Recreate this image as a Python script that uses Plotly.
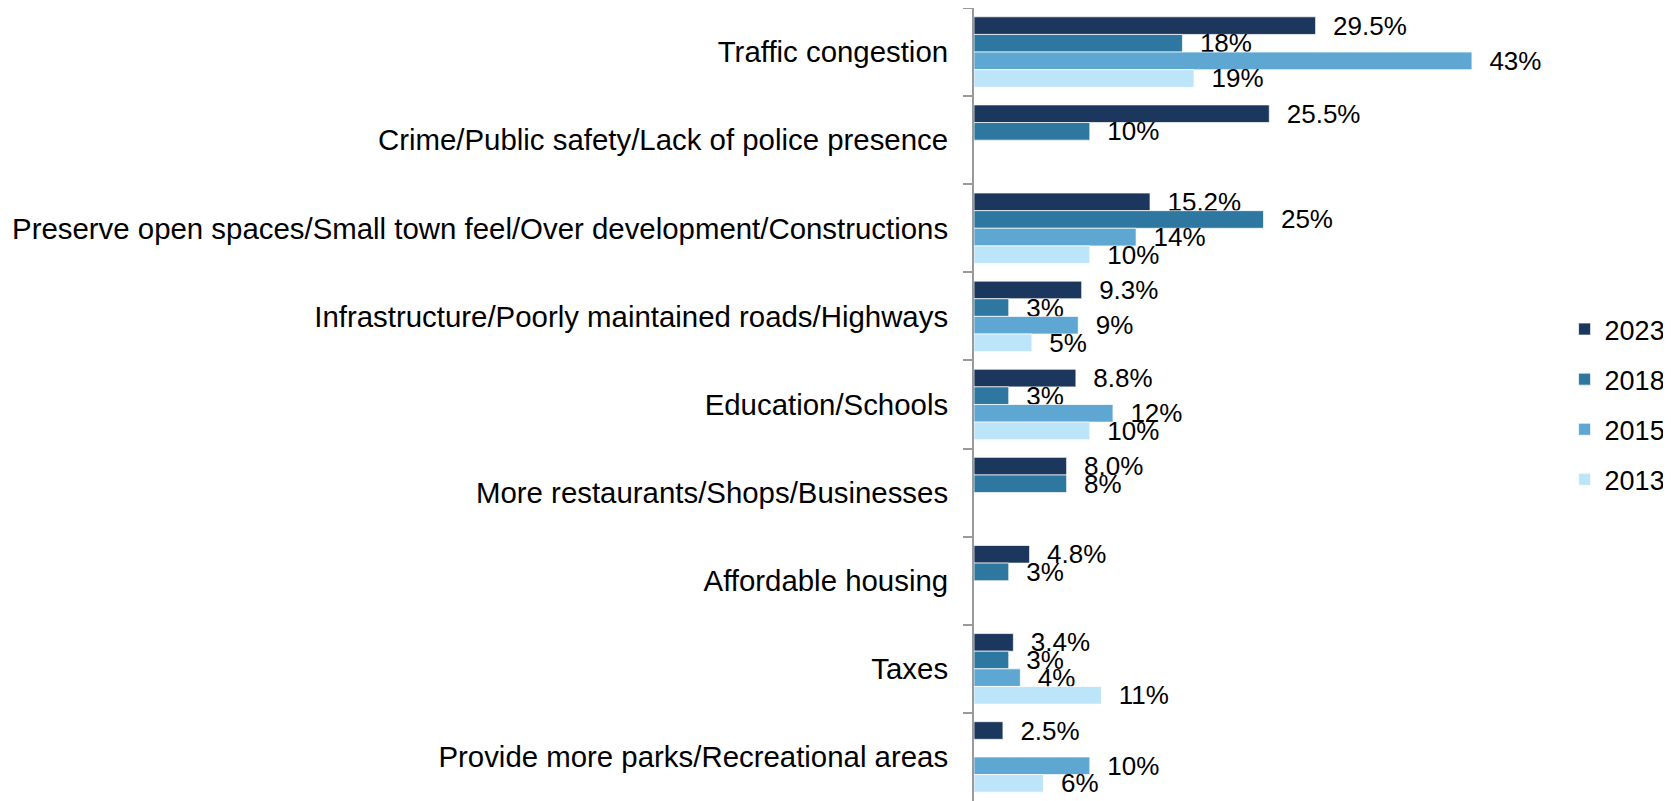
"""Horizontal grouped bar chart: community issues by survey year."""

import plotly.graph_objects as go

categories = [
    "Traffic congestion",
    "Crime/Public safety/Lack of police presence",
    "Preserve open spaces/Small town feel/Over development/Constructions",
    "Infrastructure/Poorly maintained roads/Highways",
    "Education/Schools",
    "More restaurants/Shops/Businesses",
    "Affordable housing",
    "Taxes",
    "Provide more parks/Recreational areas",
]

years = ["2023", "2018", "2015", "2013"]

values_2023 = [29.5, 25.5, 15.2, 9.3, 8.8, 8.0, 4.8, 3.4, 2.5]
values_2018 = [18, 10, 25, 3, 3, 8, 3, 3, None]
values_2015 = [43, None, 14, 9, 12, None, None, 4, 10]
values_2013 = [19, None, 10, 5, 10, None, None, 11, 6]

labels_2023 = ["29.5%", "25.5%", "15.2%", "9.3%", "8.8%", "8.0%", "4.8%", "3.4%", "2.5%"]

colors = {
    "2023": "#1b375e",
    "2018": "#2e77a0",
    "2015": "#5ea7d3",
    "2013": "#bde5fa",
}

series = {
    "2023": values_2023,
    "2018": values_2018,
    "2015": values_2015,
    "2013": values_2013,
}

FONT = "Liberation Sans, Arial, sans-serif"

fig = go.Figure()

for year in years:
    vals = series[year]
    if year == "2023":
        text = labels_2023
    else:
        text = ["" if v is None else f"{v:g}%" for v in vals]
    fig.add_trace(go.Bar(
        y=categories,
        x=vals,
        orientation="h",
        name=year,
        legendgroup=year,
        marker=dict(color=colors[year], line=dict(color="rgba(255,255,255,0.7)", width=1)),
        text=text,
        texttemplate="  %{text}",
        textposition="outside",
        constraintext="none",
        cliponaxis=False,
        textfont=dict(family=FONT, size=26, color="#000000"),
    ))

# page body adds an 8px margin, so the figure is a bit smaller than the window
fig.update_layout(
    width=1663,
    height=793,
    barmode="group",
    bargap=0.2,
    bargroupgap=0,
    plot_bgcolor="white",
    paper_bgcolor="white",
    font=dict(family=FONT, size=26, color="#000000"),
    margin=dict(l=966, r=118, t=0, b=0),
    showlegend=True,
    legend=dict(
        x=1.02, xanchor="left",
        y=0.5, yanchor="middle",
        traceorder="grouped",
        tracegroupgap=12,
        font=dict(family=FONT, size=27, color="#000000"),
        itemwidth=30,
    ),
)

fig.update_xaxes(
    range=[0, 50],
    visible=False,
    showgrid=False,
    zeroline=False,
)

fig.update_yaxes(
    autorange="reversed",
    automargin=False,
    showline=True,
    linecolor="#9a9a9a",
    linewidth=2,
    ticks="outside",
    tickson="boundaries",
    ticklen=9,
    tickwidth=2,
    tickcolor="#9a9a9a",
    ticklabelstandoff=18,
    showgrid=False,
    tickfont=dict(family=FONT, size=29.4, color="#000000"),
)

fig.write_html("out.html")
